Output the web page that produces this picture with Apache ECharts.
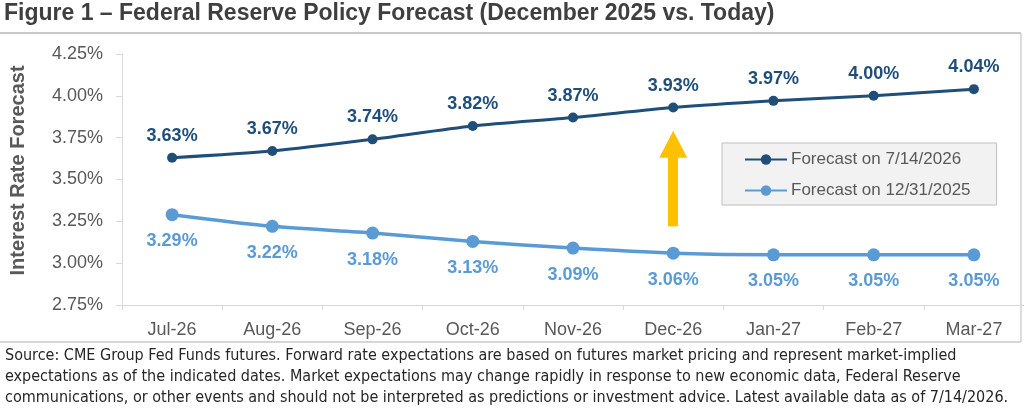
<!DOCTYPE html>
<html>
<head>
<meta charset="utf-8">
<script src="https://cdn.jsdelivr.net/npm/echarts@6/dist/echarts.min.js"></script>
<style>
html, body { margin: 0; padding: 0; background: #fff; }
#main { width: 1024px; height: 411px; }
</style>
</head>
<body>
<div id="main"></div>
<script>
var months = ['Jul-26', 'Aug-26', 'Sep-26', 'Oct-26', 'Nov-26', 'Dec-26', 'Jan-27', 'Feb-27', 'Mar-27'];
var forecastToday = [3.63, 3.67, 3.74, 3.82, 3.87, 3.93, 3.97, 4.00, 4.04];
var forecastDec = [3.29, 3.22, 3.18, 3.13, 3.09, 3.06, 3.05, 3.05, 3.05];
var seriesNames = ['Forecast on 7/14/2026', 'Forecast on 12/31/2025'];
// yellow arrow, in data space
var arrowMonth = 'Dec-26';
var arrowFrom = 3.22;
var arrowTo = 3.71;
var footnote = [
    'Source: CME Group Fed Funds futures. Forward rate expectations are based on futures market pricing and represent market-implied',
    'expectations as of the indicated dates. Market expectations may change rapidly in response to new economic data, Federal Reserve',
    'communications, or other events and should not be interpreted as predictions or investment advice. Latest available data as of 7/14/2026.'
];

var dom = document.getElementById('main');
var myChart = echarts.init(dom);
var font = 'Liberation Sans, Arial, sans-serif';
var pct = function (p) { return p.value.toFixed(2) + '%'; };

var option = {
    animation: false,
    title: {
        text: 'Figure 1 \u2013 Federal Reserve Policy Forecast (December 2025 vs. Today)',
        left: 4,
        top: 2,
        padding: 0,
        textStyle: { fontFamily: font, fontSize: 23, fontWeight: 'bold', color: '#3f3f3f' }
    },
    legend: {
        orient: 'vertical',
        left: 722,
        top: 143,
        padding: [8, 26, 6, 22],
        itemGap: 14,
        itemWidth: 42,
        itemHeight: 13,
        backgroundColor: '#F2F2F2',
        borderColor: '#BFBFBF',
        borderWidth: 1,
        borderRadius: 0,
        textStyle: { fontFamily: font, fontSize: 17, color: '#595959', padding: [0, 0, 0, -1] },
        data: seriesNames
    },
    grid: { left: 117, right: 0, top: 54, bottom: 106 },
    xAxis: {
        type: 'category',
        data: months,
        boundaryGap: true,
        axisLine: { lineStyle: { color: '#D9D9D9', width: 1 } },
        axisTick: { show: true, length: 5, interval: 0, lineStyle: { color: '#D9D9D9' } },
        axisLabel: { fontFamily: font, fontSize: 18, color: '#595959', margin: 16 }
    },
    yAxis: {
        type: 'value',
        min: 2.75,
        max: 4.25,
        interval: 0.25,
        name: 'Interest Rate Forecast',
        nameLocation: 'middle',
        nameGap: 94,
        nameTextStyle: { fontFamily: font, fontSize: 20, fontWeight: 'bold', color: '#595959', padding: [0, 0, 0, 18] },
        axisLine: { show: true, lineStyle: { color: '#D9D9D9', width: 1 } },
        axisTick: { show: true, length: 6, lineStyle: { color: '#D9D9D9' } },
        splitLine: { show: false },
        axisLabel: {
            fontFamily: font, fontSize: 18, color: '#595959', margin: 19,
            formatter: function (v) { return v.toFixed(2) + '%'; }
        }
    },
    series: [
        {
            name: seriesNames[0],
            type: 'line',
            data: forecastToday,
            smooth: 0.25,
            symbol: 'circle',
            symbolSize: 10,
            color: '#1F4E79',
            lineStyle: { width: 3, color: '#1F4E79' },
            label: {
                show: true, position: 'top', distance: 8,
                fontFamily: font, fontSize: 18, fontWeight: 'bold', color: '#1F4E79',
                formatter: pct
            }
        },
        {
            name: seriesNames[1],
            type: 'line',
            data: forecastDec,
            smooth: 0.25,
            symbol: 'circle',
            symbolSize: 13,
            color: '#5B9BD5',
            lineStyle: { width: 3.5, color: '#5B9BD5' },
            label: {
                show: true, position: 'bottom', distance: 11,
                fontFamily: font, fontSize: 18, fontWeight: 'bold', color: '#5B9BD5',
                formatter: pct
            },
            markLine: {
                silent: true,
                symbol: ['none', 'triangle'],
                symbolSize: [28, 27],
                label: { show: false },
                lineStyle: { color: '#FFC000', width: 10, type: 'solid', cap: 'butt' },
                emphasis: { disabled: true },
                data: [[{ coord: [arrowMonth, arrowFrom] }, { coord: [arrowMonth, arrowTo] }]]
            }
        }
    ],
    graphic: [
        { type: 'line', shape: { x1: 0, y1: 33, x2: 1021, y2: 33 }, style: { stroke: '#C8C8C8', lineWidth: 2 } },
        { type: 'line', shape: { x1: 1021, y1: 33, x2: 1021, y2: 342 }, style: { stroke: '#D0D0D0', lineWidth: 1.5 } },
        { type: 'line', shape: { x1: 0, y1: 342, x2: 1021, y2: 342 }, style: { stroke: '#C8C8C8', lineWidth: 1.5 } },
        {
            type: 'text',
            left: 5,
            top: 345,
            style: {
                text: footnote.join('\n'),
                font: '16px "DejaVu Sans Condensed", sans-serif',
                lineHeight: 21,
                fill: '#262626'
            }
        }
    ]
};
myChart.setOption(option);
</script>
</body>
</html>
